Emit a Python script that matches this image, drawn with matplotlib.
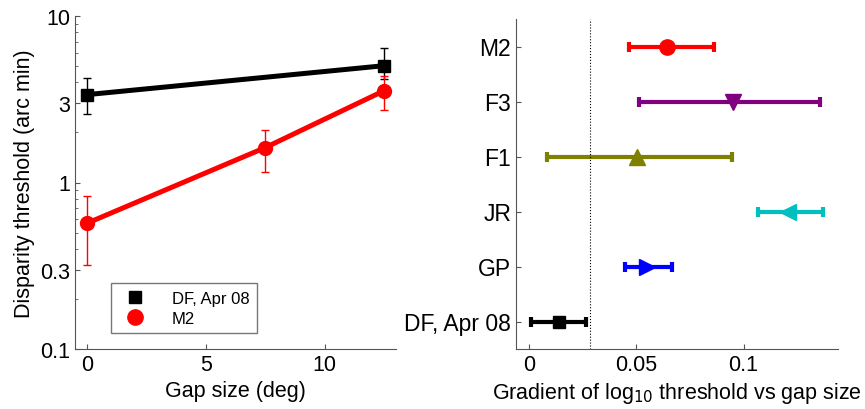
import numpy as np
import matplotlib
matplotlib.use('Agg')
import matplotlib.pyplot as plt
from matplotlib.ticker import FixedLocator, NullFormatter, LogLocator

plt.rcParams['font.family'] = ['Liberation Sans', 'DejaVu Sans']

# left panel data
gap_df = [0, 12.5]
thr_df = [3.37, 5.03]
thr_df_lo = [2.58, 4.2]
thr_df_hi = [4.23, 6.42]

gap_m2 = [0, 7.5, 12.5]
thr_m2 = [0.569, 1.62, 3.56]
thr_m2_lo = [0.32, 1.16, 2.72]
thr_m2_hi = [0.826, 2.07, 4.34]

# right panel data
subjects = ['DF, Apr 08', 'GP', 'JR', 'F1', 'F3', 'M2']
grad = [0.0139, 0.0549, 0.1206, 0.0503, 0.0951, 0.0642]
grad_lo = [0.0008, 0.0449, 0.1067, 0.0085, 0.0513, 0.0467]
grad_hi = [0.0268, 0.0668, 0.1372, 0.0946, 0.1358, 0.0861]
colors = ['black', 'blue', '#00bfbf', '#808000', '#800080', 'red']
markers = ['s', '>', '<', '^', 'v', 'o']
msizes = [8, 11, 11, 11, 11, 11]
ref_line = 0.0283

fig = plt.figure(figsize=(8.65, 4.10), dpi=100)
ax1 = fig.add_axes([75/865, 60/410, 321/865, 333/410])
ax2 = fig.add_axes([516/865, 60/410, 322/865, 330/410])

def style(ax):
    ax.spines['top'].set_visible(False)
    ax.spines['right'].set_visible(False)
    for s in ['left', 'bottom']:
        ax.spines[s].set_color('#555555')
    ax.tick_params(direction='in', which='both', colors='#555555', labelcolor='black', labelsize=15.5)

# left
y = np.array(thr_df)
ax1.errorbar(gap_df, thr_df, yerr=[y - np.array(thr_df_lo), np.array(thr_df_hi) - y],
             color='black', marker='s', ms=8, lw=3.6, elinewidth=1, capsize=3, ecolor='black',
             label='DF, Apr 08')
y = np.array(thr_m2)
ax1.errorbar(gap_m2, thr_m2, yerr=[y - np.array(thr_m2_lo), np.array(thr_m2_hi) - y],
             color='red', marker='o', ms=10, lw=3.6, elinewidth=1, capsize=3, ecolor='red',
             label='M2')
ax1.set_yscale('log')
ax1.set_ylim(0.1, 10)
ax1.set_xlim(-0.5, 13)
ax1.yaxis.set_major_locator(FixedLocator([0.1, 0.3, 1, 3, 10]))
ax1.set_yticklabels(['0.1', '0.3', '1', '3', '10'])
ax1.yaxis.set_minor_locator(LogLocator(base=10, subs=np.arange(2, 10)))
ax1.yaxis.set_minor_formatter(NullFormatter())
ax1.set_xticks([0, 5, 10])
ax1.set_xlabel('Gap size (deg)', fontsize=15.5)
ax1.set_ylabel('Disparity threshold (arc min)', fontsize=15.5)
style(ax1)
h, l = ax1.get_legend_handles_labels()
h = [plt.Line2D([], [], color=c, marker=m, ls='none', ms=ms) for c, m, ms in
     [('black', 's', 9), ('red', 'o', 11)]]
leg = ax1.legend(h, l, loc='lower left', bbox_to_anchor=(0.112, 0.048), borderaxespad=0,
                 fontsize=12, frameon=True, fancybox=False, edgecolor='#555555',
                 handletextpad=1.2, borderpad=0.45, labelspacing=0.3)
leg.get_frame().set_linewidth(1)

# right
ypos = np.arange(1, len(subjects) + 1)
for i in range(len(subjects)):
    ax2.errorbar(grad[i], ypos[i], xerr=[[grad[i] - grad_lo[i]], [grad_hi[i] - grad[i]]],
                 color=colors[i], marker=markers[i], ms=msizes[i], elinewidth=3, capsize=3.8,
                 capthick=3)
ax2.axvline(ref_line, color='black', ls=':', lw=0.8)
ax2.set_xlim(-0.006, 0.144)
ax2.set_ylim(0.5, 6.5)
ax2.set_yticks(ypos)
ax2.set_yticklabels(subjects)
ax2.set_xticks([0, 0.05, 0.1])
ax2.set_xticklabels(['0', '0.05', '0.1'])
ax2.set_xlabel('Gradient of log$_{10}$ threshold vs gap size', fontsize=15.5)
style(ax2)
ax2.tick_params(axis='y', labelsize=16.5)

fig.savefig('out.png', dpi=100)
